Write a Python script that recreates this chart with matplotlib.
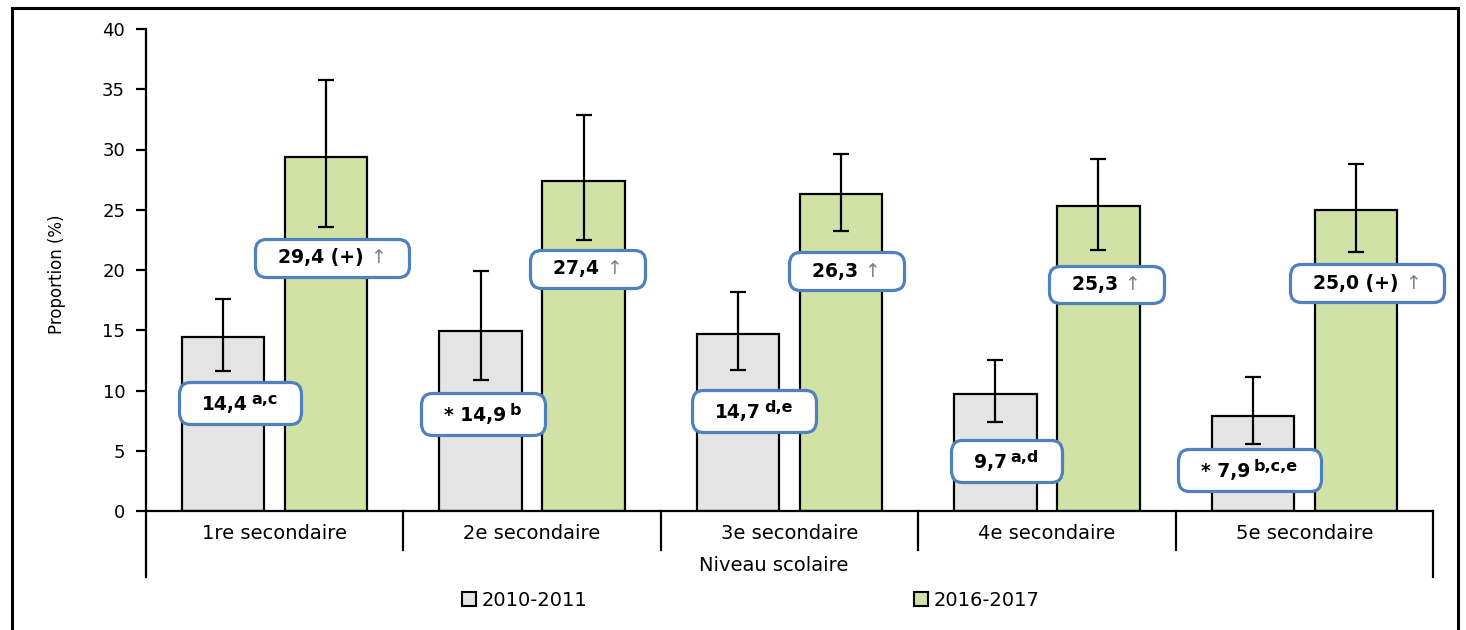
import matplotlib
matplotlib.use("Agg")
import matplotlib.pyplot as plt
import matplotlib.transforms as mtransforms
import numpy as np
from matplotlib.offsetbox import TextArea, HPacker, VPacker, DrawingArea, AnnotationBbox
from matplotlib.patches import Rectangle, Patch

# Données
niveaux = ["1re secondaire", "2e secondaire", "3e secondaire", "4e secondaire", "5e secondaire"]
annees = ["2010-2011", "2016-2017"]
val_2010 = [14.4, 14.9, 14.7, 9.7, 7.9]
val_2016 = [29.4, 27.4, 26.3, 25.3, 25.0]
# intervalles de confiance (bas / haut)
ic_bas_2010 = [11.6, 10.9, 11.7, 7.4, 5.6]
ic_haut_2010 = [17.6, 19.9, 18.2, 12.5, 11.1]
ic_bas_2016 = [23.6, 22.5, 23.2, 21.7, 21.5]
ic_haut_2016 = [35.8, 32.9, 29.6, 29.2, 28.8]
# étiquettes
txt_2010 = ["14,4", "* 14,9", "14,7", "9,7", "* 7,9"]
sup_2010 = ["a,c", "b", "d,e", "a,d", "b,c,e"]
txt_2016 = ["29,4 (+)", "27,4", "26,3", "25,3", "25,0 (+)"]

# placement des étiquettes (décalage x en catégories, hauteur y)
lab_dx_2010 = [0.066, 0.008, 0.062, 0.043, -0.012]
lab_y_2010 = [8.96, 8.05, 8.3, 4.15, 3.4]
lab_dx_2016 = [0.023, 0.015, 0.02, 0.03, 0.044]
lab_y_2016 = [21.0, 20.1, 19.9, 18.8, 18.9]

gris = "#E4E4E4"
vert = "#D0E2A6"
bleu = "#4F81BD"

plt.rcParams["font.family"] = ["DejaVu Sans"]

W, H = 1466, 630
fig = plt.figure(figsize=(W / 100, H / 100), dpi=100)
ax = fig.add_axes([146 / W, 1 - 511 / H, (1433 - 146) / W, (511 - 29) / H])

x = np.arange(len(niveaux)) + 0.5
w = 0.32
dx = 0.2
v10 = np.array(val_2010)
v16 = np.array(val_2016)
ax.bar(x - dx, v10, w, color=gris, edgecolor="black", linewidth=1.6, zorder=2)
ax.bar(x + dx, v16, w, color=vert, edgecolor="black", linewidth=1.6, zorder=2)
ax.errorbar(x - dx, v10, yerr=[v10 - np.array(ic_bas_2010), np.array(ic_haut_2010) - v10],
            fmt="none", ecolor="black", elinewidth=1.6, capsize=6, capthick=1.6, zorder=3)
ax.errorbar(x + dx, v16, yerr=[v16 - np.array(ic_bas_2016), np.array(ic_haut_2016) - v16],
            fmt="none", ecolor="black", elinewidth=1.6, capsize=6, capthick=1.6, zorder=3)

ax.set_xlim(0, len(niveaux))
ax.set_ylim(0, 40)
ax.set_yticks(range(0, 41, 5))
ax.set_xticks([])
for s in ["top", "right"]:
    ax.spines[s].set_visible(False)
for s in ["left", "bottom"]:
    ax.spines[s].set_linewidth(1.6)
ax.tick_params(axis="y", direction="out", length=7, width=1.6, labelsize=13, pad=8)

# séparateurs et étiquettes de catégories
trans = mtransforms.blended_transform_factory(ax.transData, ax.transAxes)
for i in range(len(niveaux) + 1):
    bas = -0.137 if i in (0, len(niveaux)) else -0.081
    ax.plot([i, i], [0, bas], transform=trans, clip_on=False, color="black", lw=1.6)
for xi, nom in zip(x, niveaux):
    ax.text(xi, -0.046, nom, transform=trans, ha="center", va="center", fontsize=14)
ax.text(2.44, -0.114, "Niveau scolaire", transform=trans, ha="center", va="center", fontsize=14)

fig.text(57 / W, 1 - 274 / H, "Proportion (%)", rotation=90, ha="center", va="center", fontsize=12)

fs_box = 13.5
fs_sup = 11.5


def boite(parts, xy, align="baseline"):
    esp = 10
    enfants = [DrawingArea(esp, 1)] + parts + [DrawingArea(esp, 1)]
    hp = HPacker(children=enfants, pad=0, sep=0, align=align)
    ab = AnnotationBbox(hp, xy, xycoords="data", frameon=True, fontsize=fs_box, pad=0.5,
                        bboxprops=dict(boxstyle="round,pad=0.5,rounding_size=0.6",
                                       ec=bleu, lw=2.3, fc="white"), zorder=5)
    ax.add_artist(ab)


for i in range(len(niveaux)):
    base = TextArea(txt_2010[i], textprops=dict(fontsize=fs_box, fontweight="bold", color="black"))
    sup = VPacker(children=[TextArea(sup_2010[i], textprops=dict(fontsize=fs_sup, fontweight="bold",
                                                                 color="black")),
                            DrawingArea(1, 5.5)], pad=0, sep=0, align="left")
    boite([base, DrawingArea(2.5, 1), sup], (x[i] - dx + lab_dx_2010[i], lab_y_2010[i]), align="bottom")

    t1 = TextArea(txt_2016[i] + " ", textprops=dict(fontsize=fs_box, fontweight="bold", color="black"))
    t2 = TextArea("\u2191", textprops=dict(fontsize=fs_box, color="#808080"))
    boite([t1, t2], (x[i] + dx + lab_dx_2016[i], lab_y_2016[i]))

# légende
poignees = [Patch(fc=gris, ec="black", lw=1.5), Patch(fc=vert, ec="black", lw=1.5)]
fig.legend(poignees, annees, loc="center", bbox_to_anchor=(751 / W, 1 - 600 / H), ncol=2,
           frameon=False, fontsize=14, handlelength=0.7, handleheight=0.7,
           handletextpad=0.3, columnspacing=16.8)

# cadre extérieur
fig.patches.append(Rectangle((12 / W, -0.1), (1458 - 12) / W, 1.1 - 8 / H,
                             transform=fig.transFigure, fill=False, lw=2.2, ec="black"))

fig.savefig("out.png", dpi=100)
